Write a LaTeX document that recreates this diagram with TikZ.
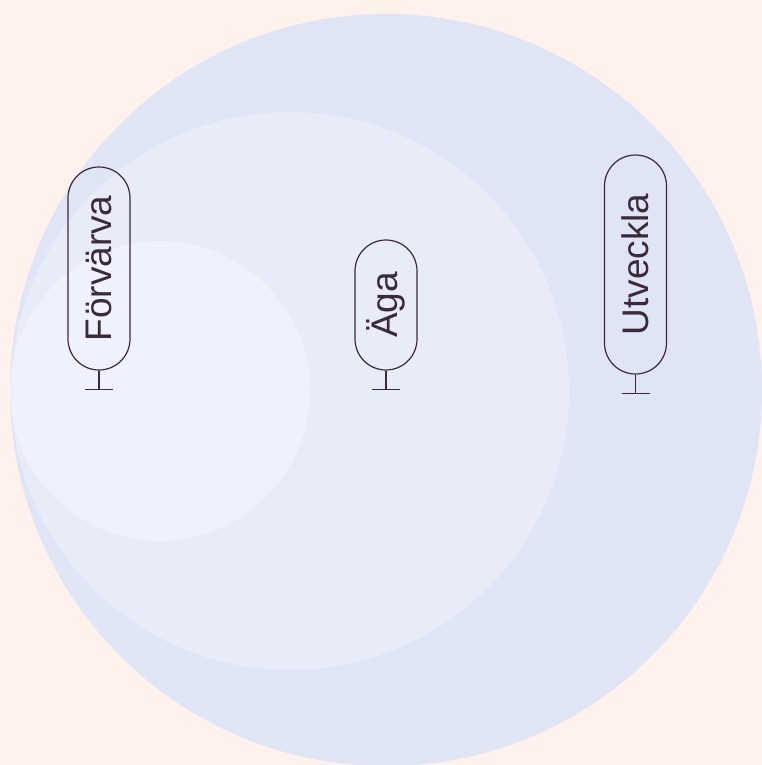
\documentclass[tikz,border=0pt]{standalone}
\usepackage{fontspec}
\setmainfont{Liberation Sans}
\definecolor{bgc}{HTML}{FFF1EC}
\definecolor{c1}{HTML}{E0E5F5}
\definecolor{c2}{HTML}{E8EBF8}
\definecolor{c3}{HTML}{EFF2FC}
\definecolor{ink}{HTML}{3B2A3A}
\tikzset{
  pill/.style={draw=ink, line width=1.2pt, rounded corners=31pt, minimum height=62pt, inner sep=0pt, rotate=90, text=ink, font=\fontsize{37}{37}\selectfont},
  stem/.style={draw=ink, line width=1.2pt}
}
\begin{document}
\begin{tikzpicture}[x=1pt,y=-1pt]
\fill[bgc] (0,0) rectangle (762,765);
\useasboundingbox (0,0) rectangle (762,765);
\fill[c1] (386,390) circle (376);
\fill[c2] (290,391) circle (279);
\fill[c3] (160,391) circle (150);
\node[pill, minimum width=203pt] (f) at (99,268.5) {Förvärva};
\node[pill, minimum width=130pt] (a) at (386,305) {Äga};
\node[pill, minimum width=219pt] (u) at (635.5,264.5) {Utveckla};
\draw[stem] (f.west) -- ++(0,19) coordinate (fb);
\draw[stem] ([xshift=-14pt]fb) -- ([xshift=14pt]fb);
\draw[stem] (a.west) -- ++(0,19) coordinate (ab);
\draw[stem] ([xshift=-14pt]ab) -- ([xshift=14pt]ab);
\draw[stem] (u.west) -- ++(0,19) coordinate (ub);
\draw[stem] ([xshift=-14pt]ub) -- ([xshift=14pt]ub);
\end{tikzpicture}
\end{document}
